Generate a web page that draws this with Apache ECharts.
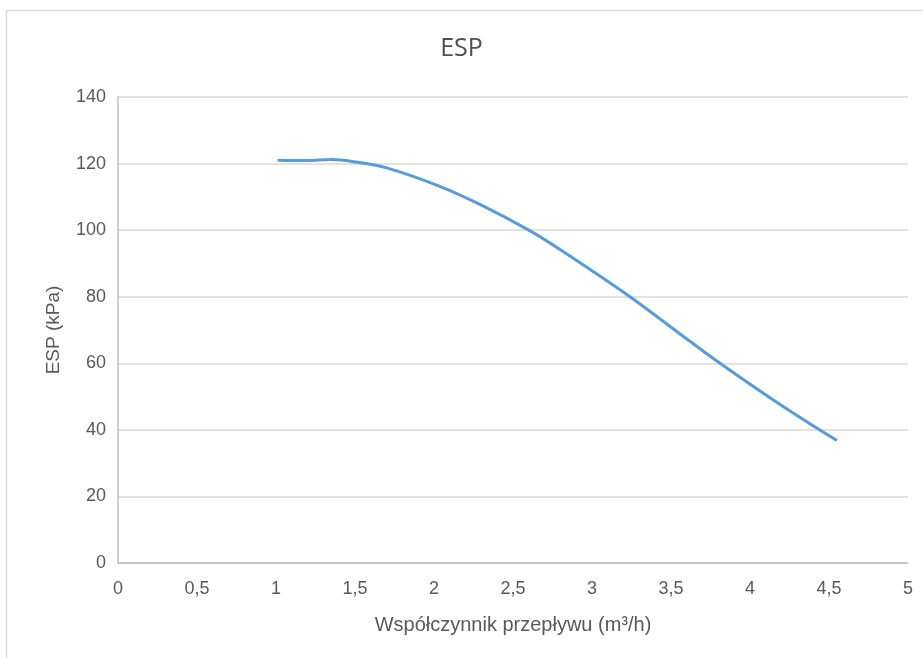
<!DOCTYPE html>
<html>
<head>
<meta charset="utf-8">
<script src="https://cdn.jsdelivr.net/npm/echarts@6/dist/echarts.min.js"></script>
<style>
html,body{margin:0;padding:0;background:#fff;}
#main{width:923px;height:658px;}
</style>
</head>
<body>
<div id="main"></div>
<script>
const flow = [1.01, 1.2, 1.35, 1.5, 1.7, 2.04, 2.3, 2.6, 2.8, 3.24, 3.62, 3.81, 4.15, 4.44, 4.55];
const esp  = [121.0, 120.9, 121.2, 120.5, 118.7, 113.1, 107.5, 100, 94.1, 80, 66.6, 60, 48.9, 40, 36.8];
const xTicks = [0, 0.5, 1, 1.5, 2, 2.5, 3, 3.5, 4, 4.5, 5];
const yTicks = [0, 20, 40, 60, 80, 100, 120, 140];

const font = '"Liberation Sans", Arial, sans-serif';
const chart = echarts.init(document.getElementById('main'));
chart.setOption({
  backgroundColor: '#fff',
  animation: false,
  title: {
    text: 'ESP',
    left: 'center',
    top: 31,
    textStyle: { fontFamily: '"Open Sans", sans-serif', fontSize: 25, fontWeight: 'normal', color: '#505050' }
  },
  graphic: [{
    type: 'polyline',
    shape: { points: [[6.5, 658], [6.5, 10.5], [923, 10.5]] },
    style: { stroke: '#d9d9d9', lineWidth: 1.5, fill: null }
  }],
  grid: { left: 118, right: 15, top: 97, bottom: 95, containLabel: false },
  xAxis: {
    type: 'value',
    min: 0, max: 5, interval: 0.5,
    name: 'Współczynnik przepływu (m³/h)',
    nameLocation: 'middle',
    nameGap: 52,
    nameTextStyle: { fontFamily: font, fontSize: 20, color: '#595959' },
    axisLine: { show: true, lineStyle: { color: '#bfbfbf', width: 1.5 } },
    axisTick: { show: false },
    splitLine: { show: false },
    axisLabel: {
      fontFamily: font, fontSize: 18, color: '#595959', margin: 17,
      formatter: v => String(v).replace('.', ',')
    }
  },
  yAxis: {
    type: 'value',
    min: 0, max: 140, interval: 20,
    name: 'ESP (kPa)',
    nameLocation: 'middle',
    nameGap: 55,
    nameTextStyle: { fontFamily: font, fontSize: 19, color: '#595959' },
    axisLine: { show: true, lineStyle: { color: '#bfbfbf', width: 1.5 } },
    axisTick: { show: false },
    splitLine: { show: true, lineStyle: { color: '#d9d9d9', width: 1.5 } },
    axisLabel: { fontFamily: font, fontSize: 18, color: '#595959', margin: 12 }
  },
  series: [{
    type: 'line',
    data: flow.map((x, i) => [x, esp[i]]),
    smooth: 0.3,
    showSymbol: false,
    lineStyle: { color: '#5b9bd5', width: 3 }
  }]
});
</script>
</body>
</html>
